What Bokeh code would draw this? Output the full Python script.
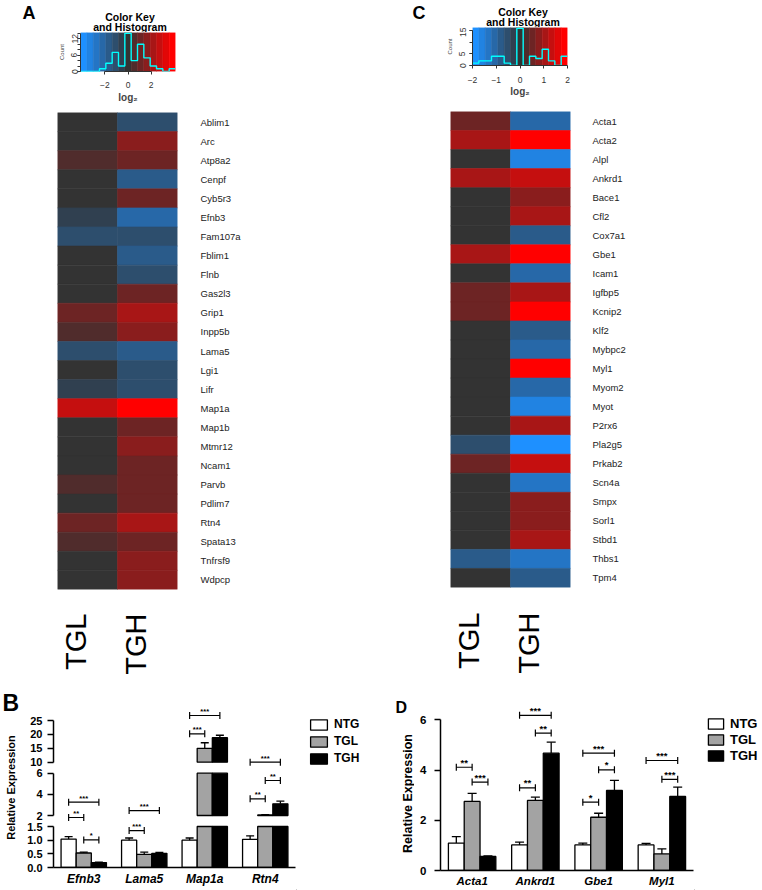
import numpy as np
from bokeh.plotting import figure
from bokeh.models import (ColumnDataSource, FactorRange, Range1d, LinearColorMapper, FixedTicker,
                          CategoricalAxis, LinearAxis, Legend, LegendItem, NumeralTickFormatter)
from bokeh.layouts import row, column
from bokeh.transform import transform, dodge
from bokeh.core.properties import value
from bokeh.embed import file_html
from bokeh.resources import INLINE

FONT = "Liberation Sans"

# ---------------- data ----------------
genes_a = ["Ablim1", "Arc", "Atp8a2", "Cenpf", "Cyb5r3", "Efnb3", "Fam107a", "Fblim1", "Flnb",
           "Gas2l3", "Grip1", "Inpp5b", "Lama5", "Lgi1", "Lifr", "Map1a", "Map1b", "Mtmr12",
           "Ncam1", "Parvb", "Pdlim7", "Rtn4", "Spata13", "Tnfrsf9", "Wdpcp"]
tgl_a = [0.0, 0.0, 0.6, 0.0, 0.0, -0.6, -1.1, 0.0, 0.0, 0.0, 1.1, 0.6, -1.1, 0.0, -0.6,
         2.8, 0.0, 0.0, 0.0, 0.6, 0.0, 1.1, 0.6, 0.0, 0.0]
tgh_a = [-1.1, 1.7, 1.1, -1.7, 1.1, -2.2, -1.1, -1.7, -1.1, 1.1, 2.2, 1.7, -1.7, -1.1, -1.1,
         3.8, 1.1, 1.7, 1.1, 1.1, 1.1, 2.2, 1.1, 1.7, 1.7]

genes_c = ["Acta1", "Acta2", "Alpl", "Ankrd1", "Bace1", "Cfl2", "Cox7a1", "Gbe1", "Icam1", "Igfbp5",
           "Kcnip2", "Klf2", "Mybpc2", "Myl1", "Myom2", "Myot", "P2rx6", "Pla2g5", "Prkab2", "Scn4a",
           "Smpx", "Sorl1", "Stbd1", "Thbs1", "Tpm4"]
tgl_c = [0.55, 1.05, 0.0, 1.05, 0.0, 0.0, 0.0, 1.05, 0.0, 0.55, 0.55, 0.0, 0.0, 0.0, 0.0, 0.0,
         0.0, -0.55, 0.55, 0.0, 0.0, 0.0, 0.0, -0.8, 0.0]
tgh_c = [-1.05, 1.9, -1.6, 1.35, 0.8, 1.05, -0.8, 1.9, -1.05, 1.05, 1.9, -0.8, -1.05, 1.9, -1.05,
         -1.6, 1.05, -1.9, 1.35, -1.35, 0.8, 0.8, 1.05, -1.35, -0.8]

heat_columns = ["TGL", "TGH"]
key_a_limit = 4.125
key_c_limit = 2.0
key_a_xticks = [-2, 0, 2]
key_a_yticks = [0, 2, 4, 6, 8, 10, 12, 14]
key_a_ylabels = [0, 6, 12]
key_c_xticks = [-2, -1, 0, 1, 2]
key_c_yticks = [0, 5, 10, 15]
key_c_ylabels = [0, 5, 15]

series = ["NTG", "TGL", "TGH"]
genes_b = ["Efnb3", "Lama5", "Map1a", "Rtn4"]
ntg_b = [1.04, 1.00, 1.00, 1.03]
tgl_b = [0.53, 0.48, 15.0, 2.05]
tgh_b = [0.18, 0.52, 18.8, 3.10]
ntg_b_err = [0.09, 0.08, 0.08, 0.13]
tgl_b_err = [0.03, 0.08, 2.00, 0.03]
tgh_b_err = [0.02, 0.03, 0.90, 0.25]
b_segments = [(10, 25), (2, 6), (0, 1.5)]
b_ticks = [[10, 15, 20, 25], [2, 4, 6], [0, 0.5, 1.0, 1.5]]

genes_d = ["Acta1", "Ankrd1", "Gbe1", "Myl1"]
ntg_d = [1.09, 1.02, 1.02, 1.02]
tgl_d = [2.75, 2.79, 2.12, 0.66]
tgh_d = [0.56, 4.67, 3.19, 2.95]
ntg_d_err = [0.26, 0.11, 0.07, 0.06]
tgl_d_err = [0.32, 0.13, 0.16, 0.20]
tgh_d_err = [0.02, 0.44, 0.40, 0.37]
d_ticks = [0, 2, 4, 6]

sig_b = [("Efnb3", "NTG", "TGL", "**"), ("Efnb3", "TGL", "TGH", "*"), ("Efnb3", "NTG", "TGH", "***"),
         ("Lama5", "NTG", "TGL", "***"), ("Lama5", "NTG", "TGH", "***"),
         ("Map1a", "NTG", "TGL", "***"), ("Map1a", "NTG", "TGH", "***"),
         ("Rtn4", "NTG", "TGL", "**"), ("Rtn4", "TGL", "TGH", "**"), ("Rtn4", "NTG", "TGH", "***")]
sig_d = [("Acta1", "NTG", "TGL", "**"), ("Acta1", "TGL", "TGH", "***"),
         ("Ankrd1", "NTG", "TGH", "***"), ("Ankrd1", "TGL", "TGH", "**"), ("Ankrd1", "NTG", "TGL", "**"),
         ("Gbe1", "NTG", "TGH", "***"), ("Gbe1", "TGL", "TGH", "*"), ("Gbe1", "NTG", "TGL", "*"),
         ("Myl1", "NTG", "TGH", "***"), ("Myl1", "TGL", "TGH", "***")]

# ---------------- positions / styles ----------------
sig_b_pos = [(1, 1.81), (2, 1.01), (1, 3.26), (2, 1.35), (1, 2.47), (0, 20.2), (0, 26.8),
             (1, 3.58), (1, 5.31), (0, 10.0)]
sig_d_pos = [4.11, 3.52, 6.18, 5.47, 3.29, 4.67, 4.01, 2.72, 4.38, 3.63]
seg_geom = [dict(h=77, top=10, bottom=0, px_lo=71.7, px_hi=30.0),
            dict(h=54, top=0, bottom=0, px_lo=48.0, px_hi=5.7),
            dict(h=69, top=0, bottom=23, px_lo=46.0, px_hi=5.0)]
OFFSETS = {"NTG": -0.25, "TGL": 0.0, "TGH": 0.25}
FILLS = {"NTG": "white", "TGL": "#a3a3a3", "TGH": "black"}


def panel_colors(n, low=(30, 144, 255), mid=(51, 51, 51), high=(255, 0, 0)):
    half = (n - 1) // 2
    out = []
    for k in range(-half, half + 1):
        f = abs(k) / half
        end = low if k < 0 else high
        c = [int(round(m + (e - m) * f)) for m, e in zip(mid, end)]
        out.append("#%02x%02x%02x" % tuple(c))
    return out


PALETTE = panel_colors(15)


def base_fig(w, h, xr, yr, left=0, right=0, top=0, bottom=0):
    p = figure(width=w, height=h, x_range=xr, y_range=yr, output_backend="svg",
               toolbar_location=None, x_axis_location=None, y_axis_location=None,
               min_border_left=left, min_border_right=right, min_border_top=top,
               min_border_bottom=bottom, background_fill_color="white",
               border_fill_color="white")
    if "frame_align" in p.properties():
        p.frame_align = False
    p.outline_line_color = None
    p.grid.visible = False
    return p


def add_text(p, x, y, text, size, style="normal", align="left", baseline="alphabetic",
             angle=0.0, color="black", x_offset=0):
    p.text(x=x, y=y, text=text, angle=angle, text_font=value(FONT), text_font_size=size,
           text_font_style=style, text_align=align, text_baseline=baseline, text_color=color,
           x_offset=x_offset)


def text_fig(w, h):
    return base_fig(w, h, Range1d(0, w), Range1d(h, 0))


def anchored_range(lo, hi, px_lo, px_hi, frame_top, frame_bottom):
    s = (px_lo - px_hi) / (hi - lo)
    return Range1d(lo - (frame_bottom - px_lo) / s, hi + (px_hi - frame_top) / s)


def key_fig(vals, limit, xticks, yticks, ylabels, w, h, left, box_w, box_h,
            lab_standoff, ylab_standoff, xlab_standoff):
    edges = np.linspace(-limit, limit, len(PALETTE) + 1)
    counts, _ = np.histogram(vals, bins=edges)
    ymax = counts.max() * 1.02
    p = base_fig(w, h, Range1d(-limit, limit), Range1d(0, ymax), left=left,
                 right=w - left - box_w, top=0, bottom=h - box_h)
    p.quad(left=edges[:-1], right=edges[1:], bottom=0, top=ymax, fill_color=PALETTE,
           line_color=PALETTE, line_width=0.5)
    p.step(x=edges, y=np.append(counts, counts[-1]), mode="after", line_color="cyan",
           line_width=1.4)
    ya = LinearAxis(ticker=FixedTicker(ticks=ylabels, minor_ticks=yticks),
                    bounds=(0, yticks[-1]), axis_label="Count")
    xa = LinearAxis(ticker=FixedTicker(ticks=xticks), bounds=(xticks[0], xticks[-1]),
                    axis_label="log\u2082")
    for ax in (ya, xa):
        ax.axis_line_color = "#333333"
        ax.major_tick_line_color = "#333333"
        ax.minor_tick_line_color = "#333333"
        ax.major_tick_in = 0
        ax.major_tick_out = 3
        ax.minor_tick_in = 0
        ax.minor_tick_out = 3
        ax.major_label_text_font = FONT
        ax.major_label_text_font_size = "8.5px"
        ax.major_label_text_color = "#333333"
        ax.axis_label_text_font = FONT
    ya.major_label_orientation = "vertical"
    ya.major_label_standoff = ylab_standoff
    ya.axis_label_text_font_size = "6px"
    ya.axis_label_text_font_style = "normal"
    ya.axis_label_standoff = 4
    xa.major_label_standoff = lab_standoff
    xa.axis_label_text_font_size = "10px"
    xa.axis_label_text_font_style = "bold"
    xa.axis_label_standoff = xlab_standoff
    p.add_layout(ya, "left")
    p.add_layout(xa, "below")
    return p


def title_fig(w, h, cx, y1, y2):
    t = text_fig(w, h)
    add_text(t, [cx], [y1], ["Color Key"], "10.5px", "bold", "center", "middle")
    add_text(t, [cx], [y2], ["and Histogram"], "10.5px", "bold", "center", "middle")
    return t


def heat_figs(genes, tgl, tgh, limit, w, h, left, frame_w, top, frame_h, standoff,
              lab_h, lab_y):
    xr = FactorRange(factors=heat_columns)
    yr = FactorRange(factors=list(reversed(genes)))
    p = base_fig(w, h, xr, yr, left=left, right=w - left - frame_w, top=top,
                 bottom=h - top - frame_h)
    mapper = LinearColorMapper(palette=PALETTE, low=-limit, high=limit)
    n = len(genes)
    src = ColumnDataSource(dict(col=["TGL"] * n + ["TGH"] * n, gene=genes + genes,
                                val=list(tgl) + list(tgh)))
    p.rect(x="col", y="gene", width=1, height=1, source=src,
           fill_color=transform("val", mapper), line_color=transform("val", mapper),
           line_width=0.6)
    ax = CategoricalAxis(axis_line_color=None, major_tick_line_color=None, major_tick_out=0,
                         major_tick_in=0, major_label_standoff=standoff)
    ax.major_label_text_font = FONT
    ax.major_label_text_font_size = "9.5px"
    ax.major_label_text_color = "#222222"
    p.add_layout(ax, "right")
    lab = base_fig(w, lab_h, xr, Range1d(lab_h, 0), left=left, right=w - left - frame_w)
    add_text(lab, heat_columns, [lab_y, lab_y], heat_columns, "29px", "normal", "right",
             "alphabetic", angle=np.pi / 2, x_offset=-12)
    return p, lab


def style_value_axis(ax, size):
    ax.axis_line_width = 1.5
    ax.axis_line_color = "black"
    ax.major_tick_line_width = 1.5
    ax.major_tick_line_color = "black"
    ax.major_tick_out = 6
    ax.major_tick_in = 0
    ax.minor_tick_line_color = None
    ax.major_label_text_font = FONT
    ax.major_label_text_font_size = size
    ax.major_label_text_font_style = "bold"
    ax.major_label_text_color = "black"


def add_cat_axis(p, size):
    xa = CategoricalAxis(major_tick_line_color=None, major_tick_out=0, major_tick_in=0,
                         major_label_standoff=4)
    xa.axis_line_width = 1.5
    xa.axis_line_color = "black"
    xa.major_label_text_font = FONT
    xa.major_label_text_font_size = size
    xa.major_label_text_font_style = "bold italic"
    xa.major_label_text_color = "black"
    p.add_layout(xa, "below")


def draw_bars(p, genes, means, errs, lo, hi, bar_w, cap_px):
    for s in series:
        m = np.array(means[s], float)
        e = np.array(errs[s], float)
        top = np.where(m > lo, np.minimum(m, hi), np.nan)
        bottom = np.where(m > lo, lo, np.nan)
        src = ColumnDataSource(dict(gene=genes, top=top, bottom=bottom))
        x = dodge("gene", OFFSETS[s], range=p.x_range)
        p.vbar(x=x, top="top", bottom="bottom", width=bar_w, source=src,
               fill_color=FILLS[s], line_color="black", line_width=1.3)
        keep = (m >= lo) & (m <= hi)
        esrc = ColumnDataSource(dict(gene=[g for g, k in zip(genes, keep) if k],
                                     y0=m[keep], y1=(m + e)[keep]))
        p.segment(x0=x, y0="y0", x1=x, y1="y1", source=esrc, line_color="black",
                  line_width=1.3)
        p.scatter(x=x, y="y1", source=esrc, marker="dash", size=cap_px,
                  line_color="black", line_width=1.3)


def draw_bracket(p, gene, a, b, stars, y, font_px, cap_px, y_off):
    xa = dodge("gene", OFFSETS[a], range=p.x_range)
    xb = dodge("gene", OFFSETS[b], range=p.x_range)
    xm = dodge("gene", (OFFSETS[a] + OFFSETS[b]) / 2, range=p.x_range)
    src = ColumnDataSource(dict(gene=[gene], y=[y], t=[stars]))
    p.segment(x0=xa, y0="y", x1=xb, y1="y", source=src, line_color="black", line_width=1.2)
    for xx in (xa, xb):
        p.scatter(x=xx, y="y", source=src, marker="dash", angle=np.pi / 2, size=cap_px,
                  line_color="black", line_width=1.2)
    p.text(x=xm, y="y", text="t", source=src, y_offset=y_off, text_align="center",
           text_baseline="alphabetic", text_font=value(FONT), text_font_size=f"{font_px}px",
           text_font_style="bold", text_color="black")


def legend_fig(w, h, loc, gw, gh, lh, size):
    # legend-only figure: proxy bars sit outside the visible range, only their style is shown
    p = base_fig(w, h, Range1d(0, 1), Range1d(0, 1))
    items = []
    for s in series:
        r = p.vbar(x=[-5.0], top=[-5.0], bottom=[-6.0], width=0.1, fill_color=FILLS[s],
                   line_color="black", line_width=1.3)
        items.append(LegendItem(label=s, renderers=[r]))
    lg = Legend(items=items, location=loc, glyph_width=gw, glyph_height=gh, label_height=lh,
                label_standoff=5, spacing=0, padding=0, margin=0, border_line_color=None,
                background_fill_alpha=0)
    lg.label_text_font = FONT
    lg.label_text_font_size = size
    lg.label_text_font_style = "bold"
    lg.label_text_color = "black"
    p.add_layout(lg)
    return p


# ---------------- panel A ----------------
letter_a = text_fig(50, 105)
add_text(letter_a, [22], [12], ["A"], "18px", "bold")
title_a = title_fig(331, 32, 79.5, 16, 26)
key_a = key_fig(tgl_a + tgh_a, key_a_limit, key_a_xticks, key_a_yticks, key_a_ylabels,
                331, 73, 30, 95, 39, 7, 0, 1)
heat_a, lab_a = heat_figs(genes_a, tgl_a, tgh_a, key_a_limit, 381, 490, 57, 120, 7, 477, 23,
                          95, 18)

# ---------------- panel C ----------------
letter_c = text_fig(61, 105)
add_text(letter_c, [31], [12], ["C"], "18px", "bold")
title_c = title_fig(320, 27, 80.5, 11, 21)
key_c = key_fig(tgl_c + tgh_c, key_c_limit, key_c_xticks, key_c_yticks, key_c_ylabels,
                320, 78, 30, 95, 38, 8, 4, 0)
heat_c, lab_c = heat_figs(genes_c, tgl_c, tgh_c, key_c_limit, 381, 488, 69, 120, 6, 476, 22,
                          97, 19)

# ---------------- panel B (broken axis) ----------------
means_b = {"NTG": ntg_b, "TGL": tgl_b, "TGH": tgh_b}
errs_b = {"NTG": ntg_b_err, "TGL": tgl_b_err, "TGH": tgh_b_err}
xr_b = FactorRange(factors=genes_b)
seg_figs = []
for i, ((lo, hi), ticks, g) in enumerate(zip(b_segments, b_ticks, seg_geom)):
    yr = anchored_range(lo, hi, g["px_lo"], g["px_hi"], g["top"], g["h"] - g["bottom"])
    p = base_fig(274, g["h"], xr_b, yr, left=31, right=1, top=g["top"], bottom=g["bottom"])
    draw_bars(p, genes_b, means_b, errs_b, lo, hi, 0.25, 8)
    ya = LinearAxis(ticker=FixedTicker(ticks=ticks), bounds=(lo, hi), major_label_standoff=5)
    if lo == 0:
        ya.formatter = NumeralTickFormatter(format="0.0")
    style_value_axis(ya, "11px")
    p.add_layout(ya, "left")
    for (gene, a, b, stars), (si, y) in zip(sig_b, sig_b_pos):
        if si == i:
            draw_bracket(p, gene, a, b, stars, y, 7.5, 7, -4)
    if lo == 0:
        add_cat_axis(p, "12px")
    seg_figs.append(p)
legend_b = legend_fig(85, 200, (12, 123.5), 21, 13, 17, "12px")

strip_b = text_fig(22, 200)
add_text(strip_b, [2], [12], ["B"], "23px", "bold")
add_text(strip_b, [10], [97], ["Relative Expression"], "11px", "bold", "center", "middle",
         angle=np.pi / 2)

# ---------------- panel D ----------------
means_d = {"NTG": ntg_d, "TGL": tgl_d, "TGH": tgh_d}
errs_d = {"NTG": ntg_d_err, "TGL": tgl_d_err, "TGH": tgh_d_err}
xr_d = FactorRange(factors=genes_d)
fig_d = base_fig(280, 200, xr_d, anchored_range(0, 6, 180, 29.3, 10, 180), left=26, right=1,
                 top=10, bottom=20)
draw_bars(fig_d, genes_d, means_d, errs_d, 0, np.inf, 0.25, 9)
ya_d = LinearAxis(ticker=FixedTicker(ticks=d_ticks), bounds=(0, 6), major_label_standoff=8)
style_value_axis(ya_d, "11.5px")
fig_d.add_layout(ya_d, "left")
add_cat_axis(fig_d, "11.5px")
for (gene, a, b, stars), y in zip(sig_d, sig_d_pos):
    draw_bracket(fig_d, gene, a, b, stars, y, 9.5, 7, -5)
legend_d = legend_fig(68, 200, (12, 127), 19, 13, 16, "13px")

strip_d = text_fig(33, 200)
add_text(strip_d, [14], [17], ["D"], "16px", "bold")
add_text(strip_d, [26], [103], ["Relative Expression"], "12.5px", "bold", "center", "middle",
         angle=np.pi / 2)

# ---------------- layout ----------------
left_col = column(row(letter_a, column(title_a, key_a)), heat_a, lab_a,
                  row(strip_b, column(*seg_figs), legend_b))
right_col = column(row(letter_c, column(title_c, key_c)), heat_c, lab_c,
                   row(strip_d, fig_d, legend_d))
page = row(left_col, right_col)

open("out.html", "w").write(file_html(page, INLINE))
